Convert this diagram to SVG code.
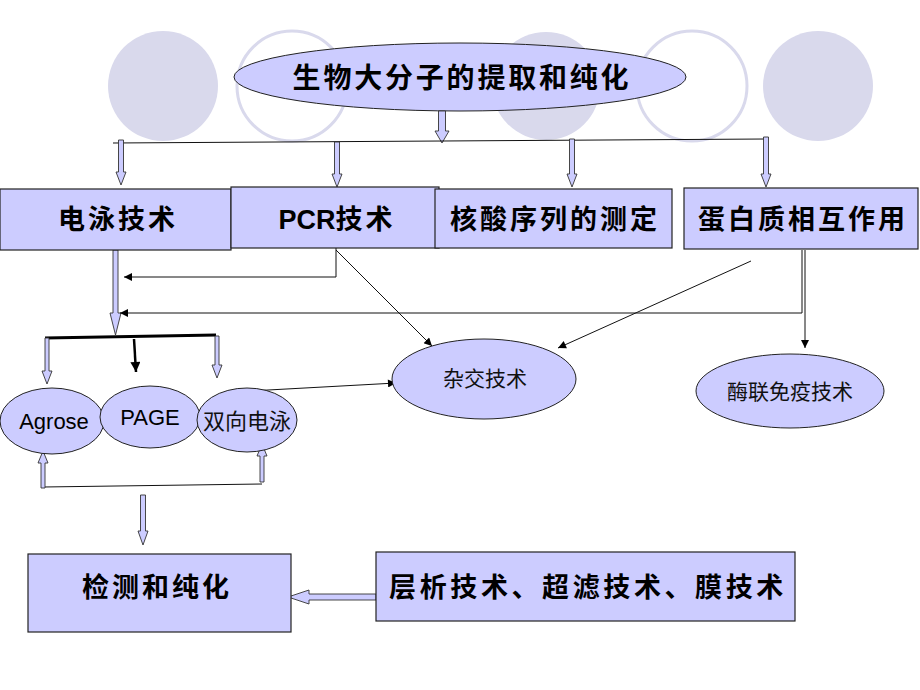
<svg xmlns="http://www.w3.org/2000/svg" width="920" height="690" viewBox="0 0 920 690">
<defs>
<style>
.bgf{fill:#d9d9ec;stroke:none}
.bgo{fill:none;stroke:#d9d9ec;stroke-width:3}
.box{fill:#ccccff;stroke:#222;stroke-width:1.2}
.ell{fill:#ccccff;stroke:#222;stroke-width:1}
.blk{fill:#ccccff;stroke:#333;stroke-width:0.9}
.ln{fill:none;stroke:#111;stroke-width:1}
.tb{font-family:"Noto Sans CJK SC",sans-serif;font-weight:bold;font-size:27px;letter-spacing:3px;fill:#000;text-anchor:middle}
.tr{font-family:"Noto Sans CJK SC",sans-serif;font-weight:normal;font-size:21px;fill:#111;text-anchor:middle}
.ta{font-family:"Liberation Sans",Arial,sans-serif;font-size:22px;fill:#000;text-anchor:middle}
</style>
<marker id="ah" viewBox="0 0 10 10" refX="10" refY="5" markerWidth="9" markerHeight="8" markerUnits="userSpaceOnUse" orient="auto">
<path d="M0,0 L10,5 L0,10 Z" fill="#000"/>
</marker>
<marker id="ahb" viewBox="0 0 10 10" refX="10" refY="5" markerWidth="11" markerHeight="10" markerUnits="userSpaceOnUse" orient="auto">
<path d="M0,0 L10,5 L0,10 Z" fill="#000"/>
</marker>
</defs>
<rect width="920" height="690" fill="#fff"/>
<g id="background">
<circle class="bgf" cx="163" cy="86" r="55"/>
<circle class="bgo" cx="292" cy="86" r="55"/>
<circle class="bgf" cx="546" cy="86" r="54"/>
<circle class="bgo" cx="692" cy="86" r="55"/>
<circle class="bgf" cx="818" cy="86" r="55"/>
</g>
<g id="n-title">
<ellipse class="ell" cx="460" cy="77" rx="226" ry="34"/>
<text class="tb" x="462" y="88" style="font-size:28px;letter-spacing:2.8px">生物大分子的提取和纯化</text>
</g>
<g id="connectors">
<path class="blk" d="M438.5,111 V131 H435 L442,143 L449,131 H445.5 V111 Z"/>
<path class="ln" d="M113,143 L442,141 L767,139"/>
<path class="blk" d="M118.5,140 V172 H116 L121,185 L126,172 H123.5 V140 Z"/>
<path class="blk" d="M334.5,142 V174 H332 L337,187 L342,174 H339.5 V142 Z"/>
<path class="blk" d="M569.5,139 V174 H567 L572,187 L577,174 H574.5 V139 Z"/>
<path class="blk" d="M763.5,137 V174 H761 L766,187 L771,174 H768.5 V137 Z"/>
<path class="blk" d="M113,250 V313 H110 L115.5,335 L121,313 H118 V250 Z"/>
<path class="ln" d="M336,248 V277 H124" marker-end="url(#ah)"/>
<path class="ln" d="M802,250 V313 H120" marker-end="url(#ah)"/>
<path class="ln" d="M805,250 V348" marker-end="url(#ah)"/>
<path class="ln" d="M336,250 L432,346" marker-end="url(#ah)"/>
<path class="ln" d="M751,261 L558,348" marker-end="url(#ah)"/>
<path class="ln" d="M250,391 L396,383" marker-end="url(#ah)"/>
<path d="M45,338 L216,335" fill="none" stroke="#000" stroke-width="3"/>
<path d="M134,339 L136,372" fill="none" stroke="#000" stroke-width="2.5" marker-end="url(#ahb)"/>
<path class="blk" d="M45,338 V371 H42 L47,384 L52,371 H49 V338 Z"/>
<path class="blk" d="M215,336 V365 H212 L217,378 L222,365 H219 V336 Z"/>
<path class="ln" d="M43,487 L262,484" stroke="#333"/>
<path class="blk" d="M41,488 V463 H38 L43,451 L48,463 H45 V488 Z"/>
<path class="blk" d="M260,482 V456 H257 L262,444 L267,456 H264 V482 Z"/>
<path class="blk" d="M140.5,495 V531 H138 L143,545 L148,531 H145.5 V495 Z"/>
<path class="blk" d="M376,594 H309 V590 L288,597 L309,604 V600 H376 Z"/>
</g>
<g id="n-dianyong">
<rect class="box" x="0" y="189" width="231" height="61"/>
<text class="tb" x="118" y="229">电泳技术</text>
</g>
<g id="n-pcr">
<rect class="box" x="231" y="187" width="208" height="61"/>
<text class="tb" x="337" y="229"><tspan style="font-family:'Liberation Sans',Arial,sans-serif;letter-spacing:0px">PCR</tspan>技术</text>
</g>
<g id="n-hesuan">
<rect class="box" x="435" y="189" width="237" height="59"/>
<text class="tb" x="555" y="229">核酸序列的测定</text>
</g>
<g id="n-danbai">
<rect class="box" x="684" y="188" width="234" height="61"/>
<text class="tb" x="803" y="229">蛋白质相互作用</text>
</g>
<g id="n-zajiao">
<ellipse class="ell" cx="484" cy="379" rx="92" ry="40"/>
<text class="tr" x="485" y="386">杂交技术</text>
</g>
<g id="n-elisa">
<ellipse class="ell" cx="790" cy="391" rx="94" ry="37"/>
<text class="tr" x="790" y="399">酶联免疫技术</text>
</g>
<g id="n-agrose">
<ellipse class="ell" cx="52" cy="421" rx="52" ry="33"/>
<text class="ta" x="54" y="429">Agrose</text>
</g>
<g id="n-page">
<ellipse class="ell" cx="150" cy="417" rx="50" ry="31"/>
<text class="ta" x="150" y="425">PAGE</text>
</g>
<g id="n-shuangxiang">
<ellipse class="ell" cx="247" cy="420" rx="50" ry="32"/>
<text class="tr" x="247" y="429" style="font-size:22px">双向电泳</text>
</g>
<g id="n-jiance">
<rect class="box" x="28" y="554" width="263" height="78"/>
<text class="tb" x="157" y="597">检测和纯化</text>
</g>
<g id="n-cengxi">
<rect class="box" x="376" y="552" width="419" height="69"/>
<text class="tb" x="588" y="597" style="letter-spacing:3.6px">层析技术、超滤技术、膜技术</text>
</g>
</svg>
